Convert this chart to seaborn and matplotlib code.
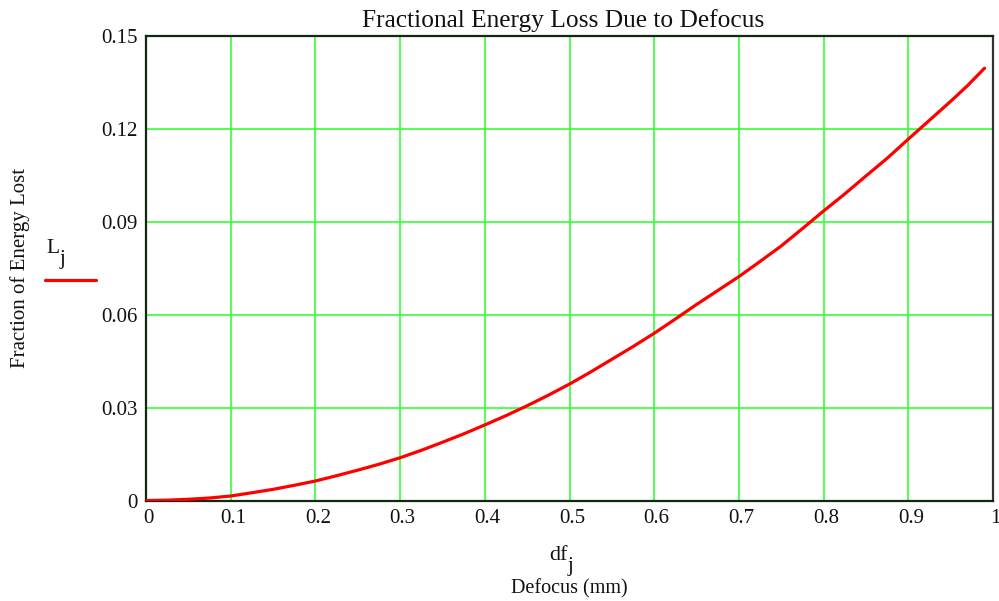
import matplotlib
matplotlib.use("Agg")
import matplotlib.pyplot as plt
import matplotlib.transforms as mtransforms
import seaborn as sns
import pandas as pd
from matplotlib.lines import Line2D

# Data
defocus_mm = [0.0, 0.025, 0.05, 0.075, 0.10, 0.125, 0.15, 0.175, 0.20, 0.225, 0.25, 0.275,
              0.30, 0.325, 0.35, 0.375, 0.40, 0.425, 0.45, 0.475, 0.50, 0.525, 0.55,
              0.575, 0.60, 0.625, 0.65, 0.675, 0.70, 0.725, 0.75, 0.775, 0.80, 0.825,
              0.85, 0.875, 0.90, 0.925, 0.95, 0.97, 0.99]
energy_lost = [0.0, 0.0001, 0.0004, 0.0008, 0.00145, 0.0025, 0.0036, 0.0049, 0.0063, 0.0080,
               0.0098, 0.0117, 0.0138, 0.0162, 0.0188, 0.0215, 0.0244, 0.0274, 0.0306,
               0.0340, 0.0376, 0.0415, 0.0456, 0.0497, 0.0540, 0.0586, 0.0633, 0.0678,
               0.0723, 0.0772, 0.0822, 0.0878, 0.0935, 0.0990, 0.1048, 0.1105, 0.1167,
               0.1228, 0.1289, 0.1340, 0.1396]
x_ticks = [0.0, 0.1, 0.2, 0.3, 0.4, 0.5, 0.6, 0.7, 0.8, 0.9, 1.0]
x_tick_labels = ["0", "0.1", "0.2", "0.3", "0.4", "0.5", "0.6", "0.7", "0.8", "0.9", "1"]
y_ticks = [0.0, 0.03, 0.06, 0.09, 0.12, 0.15]
y_tick_labels = ["0", "0.03", "0.06", "0.09", "0.12", "0.15"]

df = pd.DataFrame({"df": defocus_mm, "L": energy_lost})

sns.set_style("white")
plt.rcParams["font.family"] = ["Liberation Serif", "DejaVu Serif"]

W, H = 999, 601
fig = plt.figure(figsize=(W / 100, H / 100), dpi=100)
ax = fig.add_axes([146 / W, 1 - 500.5 / H, (993 - 146) / W, (500.5 - 36) / H])

sns.lineplot(data=df, x="df", y="L", ax=ax, color="#ff0000", linewidth=2.3, zorder=3)

ax.set_xlim(0, 1.0)
ax.set_ylim(0, 0.15)
ax.set_xticks(x_ticks)
ax.set_xticklabels(x_tick_labels)
ax.set_yticks(y_ticks)
ax.set_yticklabels(y_tick_labels)
ax.grid(True, color="#33ff33", linewidth=1.2, zorder=1)
ax.set_axisbelow(True)
ax.tick_params(axis="both", length=0, labelsize=15, colors="#111111")
ax.tick_params(axis="x", pad=6)
ax.tick_params(axis="y", pad=6)
shift = mtransforms.ScaledTranslation(2.5 / 100, 0, fig.dpi_scale_trans)
for lab in ax.get_xticklabels():
    lab.set_transform(lab.get_transform() + shift)
for side in ["left", "bottom", "top"]:
    ax.spines[side].set_color("#0f2a0f")
    ax.spines[side].set_linewidth(1.6)
ax.spines["right"].set_color("#333333")
ax.spines["right"].set_linewidth(1.6)
ax.set_xlabel("")
ax.set_ylabel("")

# title
fig.text(563.5 / W, 1 - 21 / H, "Fractional Energy Loss Due to Defocus", ha="center", va="center",
         fontsize=18.3, color="#111111")

# axis labels in Mathcad style
fig.text(20 / W, 1 - 268 / H, "Fraction of Energy Lost", rotation=90, ha="center", va="center",
         fontsize=15, color="#111111")
fig.text(569 / W, 1 - 589 / H, "Defocus (mm)", ha="center", va="center", fontsize=14.5,
         color="#111111")
fig.text(568 / W, 1 - 560 / H, "df", ha="right", va="baseline", fontsize=16, color="#111111")
fig.text(568 / W, 1 - 571 / H, "j", ha="left", va="baseline", fontsize=15, color="#111111")

# legend trace label
fig.text(60 / W, 1 - 253 / H, "L", ha="right", va="baseline", fontsize=15.5, color="#111111")
fig.text(60 / W, 1 - 264 / H, "j", ha="left", va="baseline", fontsize=15, color="#111111")
fig.add_artist(Line2D([45 / W, 96 / W], [1 - 280 / H, 1 - 280 / H], color="#ff0000",
                      linewidth=2.3, transform=fig.transFigure))

fig.savefig("out.png", dpi=100)
